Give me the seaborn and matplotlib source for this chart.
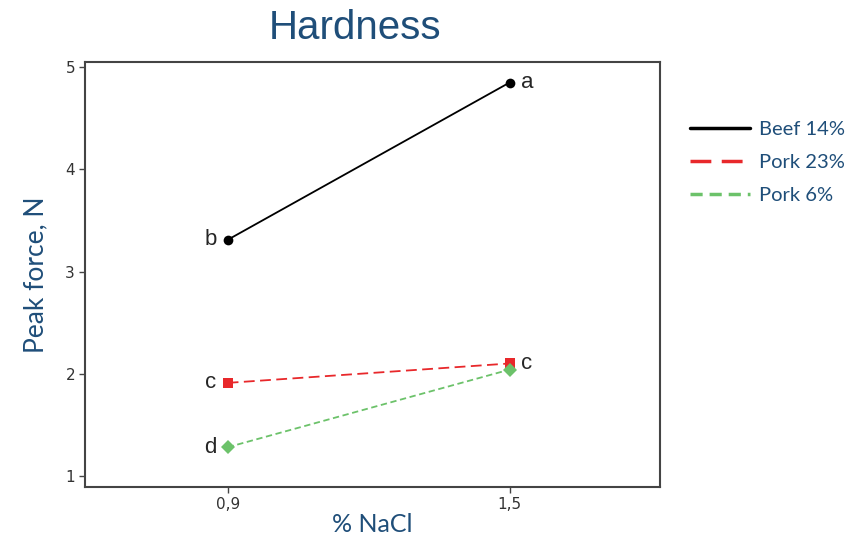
import matplotlib
matplotlib.use("Agg")
import matplotlib.pyplot as plt
import seaborn as sns
import pandas as pd

# data
nacl = [0.9, 1.5]
beef_14 = [3.31, 4.85]
pork_23 = [1.91, 2.10]
pork_6 = [1.28, 2.04]
groups = ["Beef 14%", "Pork 23%", "Pork 6%"]
letters = {"Beef 14%": ["b", "a"], "Pork 23%": ["c", "c"], "Pork 6%": ["d", ""]}
x_ticklabels = ["0,9", "1,5"]

df = pd.DataFrame({
    "nacl": nacl * 3,
    "force": beef_14 + pork_23 + pork_6,
    "group": [g for g in groups for _ in nacl],
})

sns.set_style("white")
blue = "#1f4e79"
palette = {"Beef 14%": "black", "Pork 23%": "#e8282b", "Pork 6%": "#6cc26a"}
dashes = {"Beef 14%": "", "Pork 23%": (6, 3), "Pork 6%": (3.5, 2)}
markers = {"Beef 14%": "o", "Pork 23%": "s", "Pork 6%": "D"}

fig = plt.figure(figsize=(8.65, 5.4), dpi=100)
ax = fig.add_axes([0.098, 0.098, 0.665, 0.787])

sns.lineplot(data=df, x="nacl", y="force", hue="group", style="group",
             palette=palette, dashes=dashes, markers=markers, markersize=7,
             markeredgewidth=0, linewidth=1.3, ax=ax)

# letters next to the points
for g, vals in zip(groups, [beef_14, pork_23, pork_6]):
    for i, (xv, yv) in enumerate(zip(nacl, vals)):
        lab = letters[g][i]
        if not lab:
            continue
        off = -8 if i == 0 else 8
        ha = "right" if i == 0 else "left"
        ax.annotate(lab, (xv, yv), xytext=(off, 0), textcoords="offset points",
                    ha=ha, va="center", fontsize=16, family="Liberation Sans")

ax.set_xlim(0.596, 1.82)
ax.set_ylim(0.89, 5.05)
ax.set_xticks(nacl)
ax.set_xticklabels(x_ticklabels)
ax.set_yticks([1, 2, 3, 4, 5])
ax.tick_params(axis="both", direction="out", length=4, width=1, color="#444444",
               labelsize=11, labelcolor="#333333", left=True, bottom=True, pad=3)
for s in ax.spines.values():
    s.set_color("#444444")
    s.set_linewidth(1.5)

ax.set_xlabel("% NaCl", fontsize=18, color=blue, family="Lato", labelpad=1)
ax.set_ylabel("Peak force, N", fontsize=19, color=blue, family="Lato", labelpad=12)
fig.text(0.41, 0.948, "Hardness", fontsize=29, color=blue, ha="center",
         va="center", family="Liberation Sans")

h, l = ax.get_legend_handles_labels()
for hh in h:
    hh.set_marker("")
    hh.set_linewidth(2.5)
leg = ax.legend(h, l, loc="upper left", bbox_to_anchor=(1.02, 0.905), frameon=False,
                fontsize=14.5, handlelength=3.0, handletextpad=0.45, labelspacing=0.8)
for t in leg.get_texts():
    t.set_color(blue)
    t.set_family("Lato")

fig.savefig("out.png", dpi=100)
